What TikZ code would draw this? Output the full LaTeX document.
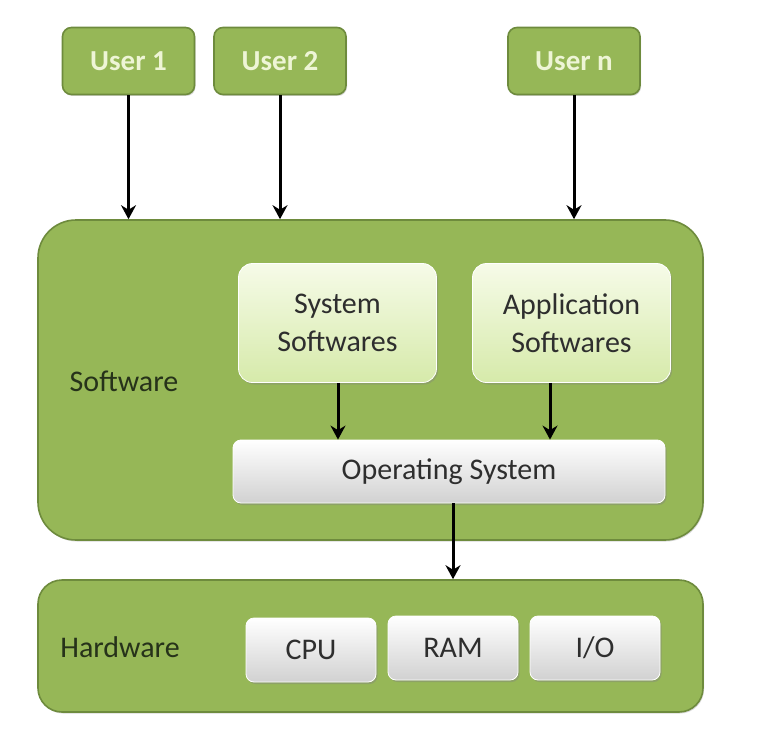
\documentclass[tikz,border=0pt]{standalone}
\usepackage{fontspec}
\setmainfont{Carlito}
\usetikzlibrary{arrows.meta,shadows}
\definecolor{ogreen}{HTML}{96B757}
\definecolor{ogreenD}{HTML}{6E8B3D}
\definecolor{utext}{HTML}{EEF5D6}
\definecolor{dtext}{HTML}{2E2E2E}
\definecolor{gtext}{HTML}{26321A}
\definecolor{lgTop}{HTML}{F6FBE8}
\definecolor{lgBot}{HTML}{D6EAAA}
\tikzset{
  userbox/.style={draw=ogreenD, line width=1.6pt, fill=ogreen, rounded corners=9pt,
    minimum width=132pt, minimum height=67pt, font=\fontsize{29}{32}\selectfont\bfseries, text=utext,
    drop shadow={shadow xshift=1pt, shadow yshift=-1.5pt, opacity=0.3}},
  bigbox/.style={draw=ogreenD, line width=1.6pt, fill=ogreen,
    drop shadow={shadow xshift=1pt, shadow yshift=-1.5pt, opacity=0.3}},
  softbox/.style={draw=white, line width=0.8pt, top color=lgTop, bottom color=lgBot, rounded corners=14pt,
    minimum width=198pt, minimum height=119pt, align=center, text=dtext,
    font=\fontsize{30}{38}\selectfont,
    drop shadow={shadow xshift=1.5pt, shadow yshift=-2pt, opacity=0.35}},
  graybox/.style={draw=white, line width=0.8pt, top color=white, bottom color=black!18, rounded corners=8pt,
    text=dtext, font=\fontsize{30}{32}\selectfont,
    drop shadow={shadow xshift=1.5pt, shadow yshift=-2pt, opacity=0.4}},
  lbl/.style={text=gtext, font=\fontsize{30}{32}\selectfont},
  arr/.style={line width=3pt, -{Stealth[length=14pt,width=15pt]}}
}
\begin{document}
\begin{tikzpicture}[x=1pt,y=-1pt]
\useasboundingbox[fill=white] (0,0) rectangle (759,730);
% big boxes
\node[bigbox, rounded corners=38pt, minimum width=665pt, minimum height=320pt] (sw) at (370.5,380) {};
\node[bigbox, rounded corners=24pt, minimum width=665pt, minimum height=132pt] (hw) at (370.5,646) {};
% users
\node[userbox] (u1) at (128.5,61) {User 1};
\node[userbox] (u2) at (280,61) {User 2};
\node[userbox] (un) at (574,61) {User n};
% software content
\node[lbl] (swl) at (124,381) {Software};
\node[softbox] (sys) at (337.5,323) {System\\Softwares};
\node[softbox] (app) at (571.5,323) {Application\\Softwares};
\node[graybox, minimum width=432pt, minimum height=63pt] (os) at (449,471.5) {Operating System};
% hardware content
\node[lbl] (hwl) at (120,647) {Hardware};
\node[graybox, minimum width=130pt, minimum height=64pt] (cpu) at (311,650) {CPU};
\node[graybox, minimum width=130pt, minimum height=64pt] (ram) at (453,648) {RAM};
\node[graybox, minimum width=130pt, minimum height=64pt] (io) at (595,648) {I/O};
% arrows
\draw[arr] (u1.south) -- (u1.south |- sw.north);
\draw[arr] (u2.south) -- (u2.south |- sw.north);
\draw[arr] (un.south) -- (un.south |- sw.north);
\draw[arr] ([xshift=0.5pt]sys.south) -- ([xshift=0.5pt]sys.south |- os.north);
\draw[arr] ([xshift=-21.5pt]app.south) -- ([xshift=-21.5pt]app.south |- os.north);
\draw[arr] ([xshift=4pt]os.south) -- ([xshift=4pt]os.south |- hw.north);
\end{tikzpicture}
\end{document}
